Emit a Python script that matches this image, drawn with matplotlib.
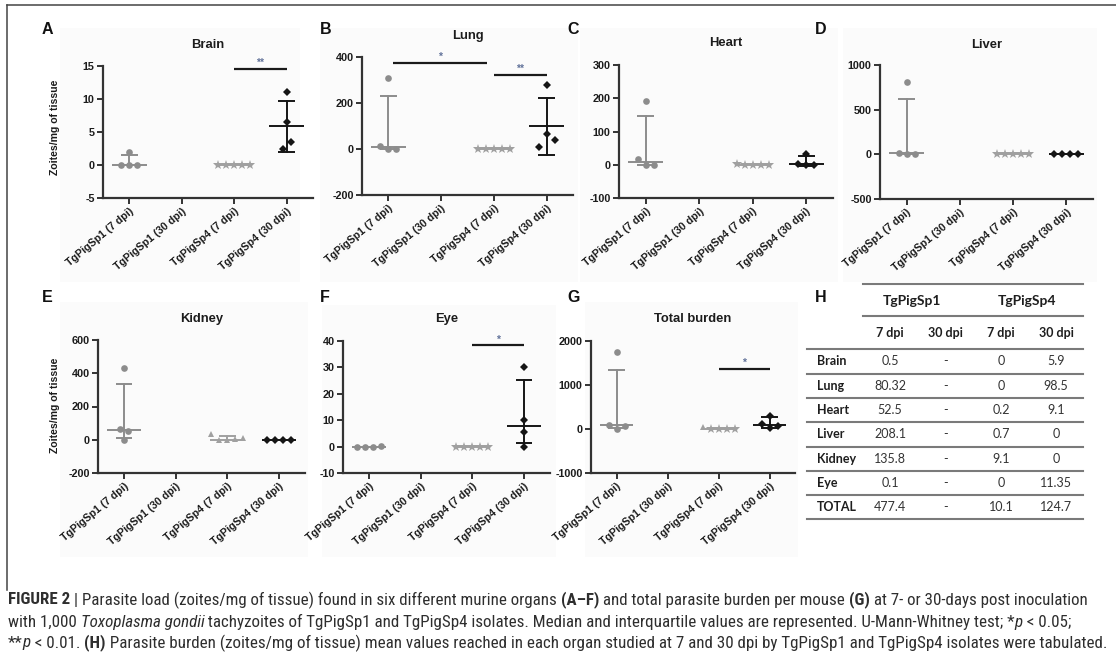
import numpy as np
import matplotlib
matplotlib.use("Agg")
import matplotlib.pyplot as plt
from matplotlib import font_manager
from matplotlib.lines import Line2D
from matplotlib.patches import Rectangle

# ------------------------------------------------------------------ data
categories = ["TgPigSp1 (7 dpi)", "TgPigSp1 (30 dpi)", "TgPigSp4 (7 dpi)", "TgPigSp4 (30 dpi)"]
organs = ["Brain", "Lung", "Heart", "Liver", "Kidney", "Eye", "Total burden"]
letters = ["A", "B", "C", "D", "E", "F", "G"]

# individual mice (zoites/mg of tissue)
brain_sp1_7 = [2.0, 0, 0, 0]
brain_sp4_7 = [0, 0, 0, 0, 0]
brain_sp4_30 = [11.0, 6.45, 2.5, 3.46]
lung_sp1_7 = [307, 14.3, 0, 0]
lung_sp4_7 = [0, 0, 0, 0, 0]
lung_sp4_30 = [280, 8, 66, 40]
heart_sp1_7 = [192, 18, 0, 0]
heart_sp4_7 = [1, 0, 0, 0, 0]
heart_sp4_30 = [33, 3, 0.4, 0]
liver_sp1_7 = [812, 15, 5, 0.4]
liver_sp4_7 = [3.5, 0, 0, 0, 0]
liver_sp4_30 = [0, 0, 0, 0]
kidney_sp1_7 = [430, 62, 51, 0]
kidney_sp4_7 = [32, 0, 0, 3.5, 10]
kidney_sp4_30 = [0, 0, 0, 0]
eye_sp1_7 = [0, 0, 0, 0.4]
eye_sp4_7 = [0, 0, 0, 0, 0]
eye_sp4_30 = [30, 10, 5.4, 0]
total_sp1_7 = [1750, 100, 0, 60]
total_sp4_7 = [45, 0, 0, 0, 5.5]
total_sp4_30 = [300, 110, 14, 75]

# summary bars: (centre, lower, upper) for Sp1-7, Sp4-7, Sp4-30
brain_stats = [(0, 0, 1.5), (0, 0, 0), (5.85, 2.0, 9.7)]
lung_stats = [(7, 0, 232), (0, 0, 0), (98.5, -25, 222)]
heart_stats = [(9, 0, 147), (0, 0, 0), (3, -4, 25)]
liver_stats = [(10, 0.4, 615), (0, 0, 0), (0, 0, 0)]
kidney_stats = [(56, 10, 337), (0, 0, 22), (0, 0, 0)]
eye_stats = [(0, 0, 0), (0, 0, 0), (7.7, 1.3, 25.3)]
total_stats = [(80, 15, 1340), (0, 0, 0), (85, 20, 262)]

brain_yticks = [-5, 0, 5, 10, 15]
lung_yticks = [-200, 0, 200, 400]
heart_yticks = [-100, 0, 100, 200, 300]
liver_yticks = [-500, 0, 500, 1000]
kidney_yticks = [-200, 0, 200, 400, 600]
eye_yticks = [-10, 0, 10, 20, 30, 40]
total_yticks = [-1000, 0, 1000, 2000]

# significance bars: (from category, to category, height, label)
brain_sig = [(2, 3, 14.5, "**")]
lung_sig = [(0.08, 1.87, 375, "*"), (2, 3, 321, "**")]
eye_sig = [(2, 3, 38.3, "*")]
total_sig = [(2, 3, 1367, "*")]

# table H
table_rows = ["Brain", "Lung", "Heart", "Liver", "Kidney", "Eye", "TOTAL"]
table_sp1_7 = ["0.5", "80.32", "52.5", "208.1", "135.8", "0.1", "477.4"]
table_sp1_30 = ["-", "-", "-", "-", "-", "-", "-"]
table_sp4_7 = ["0", "0", "0.2", "0.7", "9.1", "0", "10.1"]
table_sp4_30 = ["5.9", "98.5", "9.1", "0", "0", "11.35", "124.7"]

# ------------------------------------------------------------------ setup
W, H = 1116, 658
fig = plt.figure(figsize=(W / 100, H / 100), dpi=100)
fig.patch.set_facecolor("white")
plt.rcParams["font.family"] = ["Liberation Sans", "DejaVu Sans"]
flist = font_manager.fontManager.ttflist
avail = {f.name for f in flist}


def fx(x):
    return x / W


def fy(y):
    return 1 - y / H


def ftext(x, y, s, **kw):
    return fig.text(fx(x), fy(y), s, **kw)


def fline(x0, y0, x1, y1, **kw):
    fig.add_artist(Line2D([fx(x0), fx(x1)], [fy(y0), fy(y1)], transform=fig.transFigure, **kw))


# frame (top and left)
fline(7, 5, 1116, 5, color="#444444", lw=1.1)
fline(7, 5, 7, 590, color="#444444", lw=1.1)

# faint panel backgrounds
for (x0, y0, x1, y1) in [(60, 28, 300, 282), (320, 28, 578, 282), (580, 28, 838, 282),
                         (843, 28, 1097, 282), (60, 302, 308, 557), (322, 305, 556, 557),
                         (585, 302, 798, 557)]:
    fig.add_artist(Rectangle((fx(x0), fy(y1)), (x1 - x0) / W, (y1 - y0) / H,
                             transform=fig.transFigure, facecolor="#fbfbfb",
                             edgecolor="none", zorder=-5))

boxes = [(103, 66, 313, 198), (362, 57, 573, 195), (619, 65, 833, 198), (880, 65, 1093, 199),
         (98, 340, 305, 473), (343, 341, 550, 473), (591, 341, 795, 473)]
title_y = [45, 36, 43, 45, 319, 319, 319]
letter_xy = [(47, 30), (326, 29), (573, 29), (821, 29), (47, 298), (325, 297), (574, 297)]

data_sets = [
    (brain_sp1_7, brain_sp4_7, brain_sp4_30, brain_stats, brain_yticks, brain_sig),
    (lung_sp1_7, lung_sp4_7, lung_sp4_30, lung_stats, lung_yticks, lung_sig),
    (heart_sp1_7, heart_sp4_7, heart_sp4_30, heart_stats, heart_yticks, []),
    (liver_sp1_7, liver_sp4_7, liver_sp4_30, liver_stats, liver_yticks, []),
    (kidney_sp1_7, kidney_sp4_7, kidney_sp4_30, kidney_stats, kidney_yticks, []),
    (eye_sp1_7, eye_sp4_7, eye_sp4_30, eye_stats, eye_yticks, eye_sig),
    (total_sp1_7, total_sp4_7, total_sp4_30, total_stats, total_yticks, total_sig),
]
sp4_7_markers = [["*"] * 5, ["*"] * 5, ["*"] * 5, ["*"] * 5, ["^"] * 5, ["*"] * 5,
                 ["^", "*", "*", "*", "*"]]

GRAY1 = "#8c8c8c"
GRAY2 = "#a0a0a0"
BLACK = "#151515"
AXC = "#333333"
TXT = "#1c1c1c"


def swarm_offsets(vals, ppu, thresh_px, spacing):
    py = np.asarray(vals, float) * ppu
    order = np.argsort(py, kind="stable")
    rows = []
    for i in order:
        if rows and py[i] - py[rows[-1][-1]] <= thresh_px:
            rows[-1].append(i)
        else:
            rows.append([i])
    off = np.zeros(len(vals))
    for r in rows:
        r = sorted(r)
        n = len(r)
        for k, i in enumerate(r):
            off[i] = (k - (n - 1) / 2) * spacing
    return off


for p, (box, (s1, s47, s430, stats, yt, sig)) in enumerate(zip(boxes, data_sets)):
    x0, y0, x1, y1 = box
    ax = fig.add_axes([fx(x0), fy(y1), (x1 - x0) / W, (y1 - y0) / H])
    ax.set_facecolor("none")
    ax.set_xlim(-0.5, 3.5)
    ax.set_ylim(yt[0], yt[-1])
    ax.set_yticks(yt)
    ax.set_yticklabels([str(t) for t in yt], fontsize=7.8, fontweight="bold", color=TXT)
    ax.set_xticks(range(4))
    ax.set_xticklabels(categories, rotation=40, ha="right", va="top", rotation_mode="anchor",
                       fontsize=7.7, fontweight="bold", color=TXT)
    for sp in ["top", "right"]:
        ax.spines[sp].set_visible(False)
    for sp in ["left", "bottom"]:
        ax.spines[sp].set_color(AXC)
        ax.spines[sp].set_linewidth(1.6)
    ax.tick_params(direction="out", length=4, width=1.4, color=AXC, pad=2)

    ppu = (y1 - y0) / (yt[-1] - yt[0])
    spacing = 8.0 / ((x1 - x0) / 4.0)
    groups = [(0, s1, GRAY1, ["o"] * len(s1), 4.8, stats[0]),
              (2, s47, GRAY2, sp4_7_markers[p], 5.2, stats[1]),
              (3, s430, BLACK, ["D"] * len(s430), 3.6, stats[2])]
    for xi, vals, col, mks, ms, (c, lo, hi) in groups:
        ax.plot([xi - 0.33, xi + 0.33], [c, c], color=col, lw=1.4, solid_capstyle="butt",
                zorder=2, clip_on=False)
        if hi != lo:
            ax.plot([xi, xi], [lo, hi], color=col, lw=1.4, zorder=2, clip_on=False)
        for v in (lo, hi):
            if v != c:
                ax.plot([xi - 0.16, xi + 0.16], [v, v], color=col, lw=1.4,
                        solid_capstyle="butt", zorder=2, clip_on=False)
        off = swarm_offsets(vals, ppu, 8.0, spacing)
        for v, o, mk in zip(vals, off, mks):
            size = ms + (1.8 if mk == "*" else 0) - (0.4 if mk == "^" else 0)
            ax.plot([xi + o], [v], marker=mk, color=col, ms=size, mew=0, ls="none",
                    zorder=3, clip_on=False)

    for (a, b, yv, lab) in sig:
        ax.plot([a, b], [yv, yv], color="#1a1a1a", lw=1.6, solid_capstyle="butt", clip_on=False)
        ax.annotate(lab, xy=((a + b) / 2, yv), xytext=(0, 6), textcoords="offset pixels",
                    ha="center", va="center", fontsize=7.5, fontweight="bold", color="#62739a")

    ftext((x0 + x1) / 2, title_y[p], organs[p], ha="center", va="center",
          fontsize=9.4, fontweight="bold", color=TXT)
    lx, ly = letter_xy[p]
    ftext(lx, ly, letters[p], ha="center", va="center", fontsize=11.5, fontweight="bold",
          color="#111111")

for yc in (127, 405):
    ftext(55, yc, "Zoites/mg of tissue", rotation=90, ha="center", va="center",
          fontsize=7.6, fontweight="bold", color=TXT)

# ------------------------------------------------------------------ table H
tfam = ["Lato", "DejaVu Sans"] if "Lato" in avail else ["DejaVu Sans"]
TC = "#1e1e1e"
LC = "#7a7a7a"
ftext(821, 297, "H", ha="center", va="center", fontsize=11.5, fontweight="bold", color="#111111")
fline(863, 284, 1083, 284, color=LC, lw=1.5)
fline(863, 315.7, 1083, 315.7, color=LC, lw=1.5)
ftext(911.7, 300.7, "TgPigSp1", ha="center", va="center", fontsize=10, fontweight="bold",
      family=tfam, color=TC)
ftext(1026.7, 300.7, "TgPigSp4", ha="center", va="center", fontsize=10, fontweight="bold",
      family=tfam, color=TC)
col_x = [890, 945.7, 1001, 1056]
for cx, lab in zip(col_x, ["7 dpi", "30 dpi", "7 dpi", "30 dpi"]):
    ftext(cx, 333.3, lab, ha="center", va="center", fontsize=9, fontweight="bold",
          family=tfam, color=TC)
row_h = 24.3
line0 = 349.3
fline(807, line0, 1083, line0, color=LC, lw=1.5)
for i, name in enumerate(table_rows):
    yc = line0 + row_h * (i + 0.5)
    ftext(816.7, yc, name, ha="left", va="center", fontsize=9, fontweight="bold",
          family=tfam, color=TC)
    for cx, colvals in zip(col_x, [table_sp1_7, table_sp1_30, table_sp4_7, table_sp4_30]):
        ftext(cx, yc, colvals[i], ha="center", va="center", fontsize=9, family=tfam,
              color="#333333")
    fline(807, line0 + row_h * (i + 1), 1083, line0 + row_h * (i + 1), color=LC, lw=1.5)

# ------------------------------------------------------------------ caption
cap_font = "Liberation Sans"
cap_stretch = "normal"
for cand in ["Liberation Sans Narrow", "Roboto Condensed", "Open Sans Condensed",
             "Noto Sans Condensed", "DejaVu Sans Condensed"]:
    if cand in avail:
        cap_font = cand
        break
else:
    for f in flist:
        if f.name in ("Roboto", "Noto Sans", "DejaVu Sans", "Open Sans") and \
                f.stretch in ("condensed", "semi-condensed", 600, 500):
            cap_font, cap_stretch = f.name, f.stretch
            break

cap_lines = [
    ([("FIGURE 2", "bold", "normal"), (" | Parasite load (zoites/mg of tissue) found in six different murine organs ", "normal", "normal"),
      ("(A\u2013F)", "bold", "normal"), (" and total parasite burden per mouse ", "normal", "normal"),
      ("(G)", "bold", "normal"), (" at 7- or 30-days post inoculation", "normal", "normal")], 600, 1067),
    ([("with 1,000 ", "normal", "normal"), ("Toxoplasma gondii", "normal", "italic"),
      (" tachyzoites of TgPigSp1 and TgPigSp4 isolates. Median and interquartile values are represented. U-Mann-Whitney test; *", "normal", "normal"),
      ("p", "normal", "italic"), (" < 0.05;", "normal", "normal")], 622, 1058),
    ([("**", "normal", "normal"), ("p", "normal", "italic"), (" < 0.01. ", "normal", "normal"),
      ("(H)", "bold", "normal"),
      (" Parasite burden (zoites/mg of tissue) mean values reached in each organ studied at 7 and 30 dpi by TgPigSp1 and TgPigSp4 isolates were tabulated.", "normal", "normal")], 643, 1097),
]

renderer = fig.canvas.get_renderer()


def seg_width(s, size, weight, style):
    kw = dict(fontsize=size, fontweight=weight, fontstyle=style, family=cap_font,
              fontstretch=cap_stretch)
    t1 = fig.text(0, 0, "|" + s + "|", **kw)
    t2 = fig.text(0, 0, "||", **kw)
    w = t1.get_window_extent(renderer).width - t2.get_window_extent(renderer).width
    t1.remove()
    t2.remove()
    return w


base = 10.0
for segs, ypx, target in cap_lines:
    tot = sum(seg_width(s, base, w, st) for s, w, st in segs)
    size = min(base * target / tot, 12.5)
    x = 8.0
    for s, w, st in segs:
        ww = seg_width(s, size, w, st)
        ftext(x, ypx, s, ha="left", va="center", fontsize=size, fontweight=w, fontstyle=st,
              family=cap_font, fontstretch=cap_stretch, color="#2e2e2e")
        x += ww

fig.savefig("out.png", dpi=100)
